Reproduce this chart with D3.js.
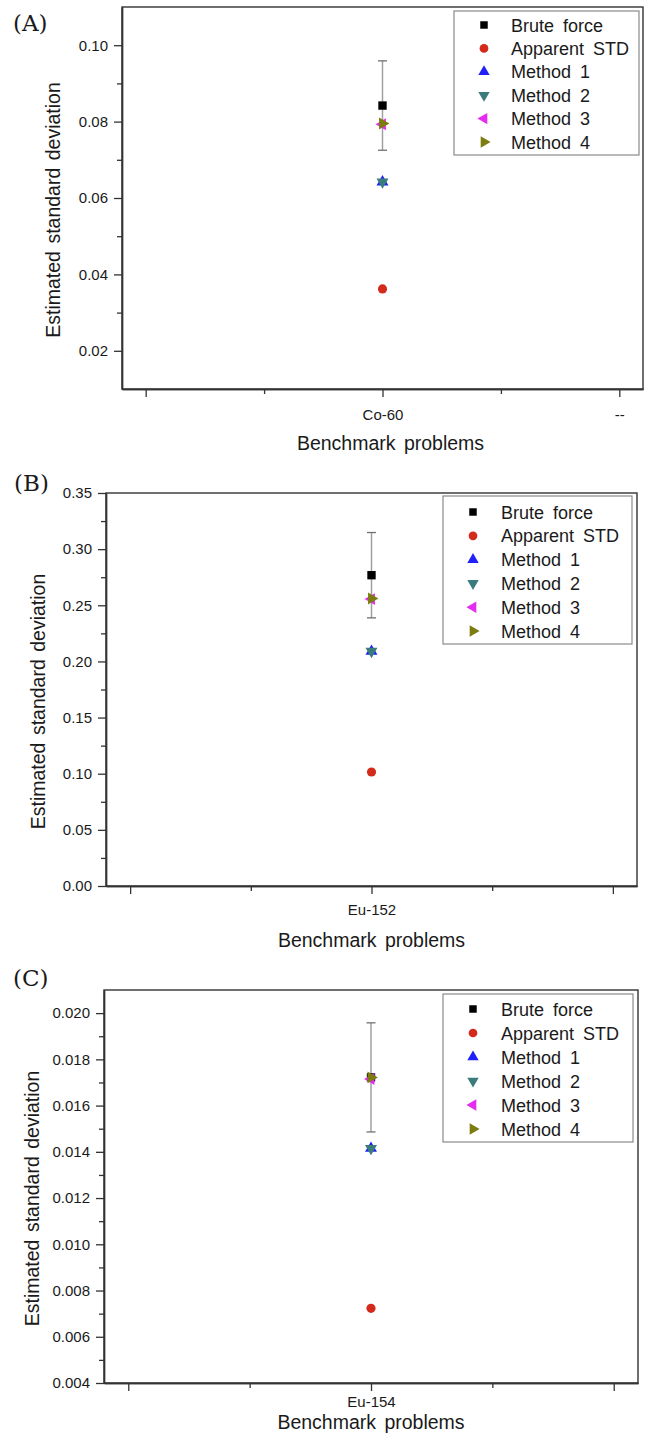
<!DOCTYPE html>
<html><head><meta charset="utf-8">
<script src="https://cdn.jsdelivr.net/npm/d3@7"></script>
<style>
body{margin:0;background:#fff;}
svg{display:block;}
text{font-family:"Liberation Sans",Arial,Helvetica,sans-serif;fill:#1a1a1a;}
</style>
</head><body>
<svg id="chart" width="645" height="1440"></svg>
<script>
// ---------------- data ----------------
const seriesNames = ["Brute force", "Apparent STD", "Method 1", "Method 2", "Method 3", "Method 4"];
const panelLetters = ["(A)", "(B)", "(C)"];
const xTitle = "Benchmark problems";
const yTitle = "Estimated standard deviation";

const categoriesA = ["", "Co-60", "--"];
const categoriesB = ["", "Eu-152", ""];
const categoriesC = ["", "Eu-154", ""];

const valuesA = [0.0842, 0.0362, 0.0642, 0.0642, 0.0793, 0.0795];
const valuesB = [0.2768, 0.1015, 0.2090, 0.2090, 0.2555, 0.2560];
const valuesC = [0.01722, 0.00723, 0.01415, 0.01415, 0.01715, 0.01722];

const bruteErrorA = 0.0117;
const bruteErrorB = 0.0380;
const bruteErrorC = 0.00236;

const yTicksA = [0.02, 0.04, 0.06, 0.08, 0.10];
const yTicksB = [0.00, 0.05, 0.10, 0.15, 0.20, 0.25, 0.30, 0.35];
const yTicksC = [0.004, 0.006, 0.008, 0.010, 0.012, 0.014, 0.016, 0.018, 0.020];
const yMinorA = [0.03, 0.05, 0.07, 0.09];
const yMinorB = [0.025, 0.075, 0.125, 0.175, 0.225, 0.275, 0.325];
const yMinorC = [0.005, 0.007, 0.009, 0.011, 0.013, 0.015, 0.017, 0.019];
const yDomainA = [0.01, 0.11];
const yDomainB = [0.0, 0.35];
const yDomainC = [0.004, 0.021];

// ---------------- styles ----------------
const seriesColors = ["#000000", "#d42a1c", "#2020f8", "#3a7c7c", "#e42cf0", "#7c7c10"];
const seriesShapes = ["square", "circle", "up", "down", "left", "right"];

const svg = d3.select("#chart");

function symbolPath(shape, size) {
  const t = (shape === "square") ? d3.symbolSquare : (shape === "circle") ? d3.symbolCircle : d3.symbolTriangle;
  return d3.symbol().type(t).size(size)();
}
function symbolRotation(shape) {
  return shape === "down" ? 180 : shape === "left" ? -90 : shape === "right" ? 90 : 0;
}

function drawPanel(cfg) {
  const g = svg.append("g");
  const x = d3.scaleLinear().domain([-0.1, 2.1]).range([cfg.left, cfg.right]);
  const y = d3.scaleLinear().domain(cfg.yDomain).range([cfg.bottom, cfg.top]);

  // frame (top + right)
  g.append("rect").attr("x", cfg.left).attr("y", cfg.top)
    .attr("width", cfg.right - cfg.left).attr("height", cfg.bottom - cfg.top)
    .attr("fill", "none").attr("stroke", "#333").attr("stroke-width", 1.4);

  // y axis
  const yAx = g.append("g").attr("transform", `translate(${cfg.left},0)`)
    .call(d3.axisLeft(y).tickValues(cfg.yTicks).tickSize(8).tickSizeOuter(0).tickPadding(6).tickFormat(d3.format(cfg.fmt)));
  const yMin = g.append("g").attr("transform", `translate(${cfg.left},0)`)
    .call(d3.axisLeft(y).tickValues(cfg.yMinor).tickSize(5).tickSizeOuter(0).tickFormat(""));
  // x axis
  const xAx = g.append("g").attr("transform", `translate(0,${cfg.bottom})`)
    .call(d3.axisBottom(x).tickValues([0, 1, 2]).tickSize(8).tickSizeOuter(0).tickPadding(cfg.xPad).tickFormat((d, i) => cfg.categories[i]));
  const xMin = g.append("g").attr("transform", `translate(0,${cfg.bottom})`)
    .call(d3.axisBottom(x).tickValues([0.5, 1.5]).tickSize(5).tickSizeOuter(0).tickFormat(""));
  [yAx, yMin, xAx, xMin].forEach(a => {
    a.select(".domain").attr("stroke", "#333").attr("stroke-width", 1.4);
    a.selectAll(".tick line").attr("stroke", "#333").attr("stroke-width", 1.3);
    a.selectAll(".tick text").style("font-size", "15px").attr("fill", "#1a1a1a")
      .style("font-family", '"Liberation Sans", Arial, sans-serif');
  });

  // titles
  g.append("text").attr("x", (cfg.left + cfg.right) / 2 + cfg.xTitleDx).attr("y", cfg.xTitleY)
    .attr("text-anchor", "middle").style("font-size", "19.5px").style("word-spacing", "3px").text(xTitle);
  g.append("text").attr("transform", `translate(${cfg.yTitleX},${(cfg.top + cfg.bottom) / 2 + 12}) rotate(-90)`)
    .attr("text-anchor", "middle").style("font-size", "19.5px").style("word-spacing", "2px").text(yTitle);
  g.append("text").attr("x", cfg.letterX).attr("y", cfg.letterY)
    .style("font-family", '"DejaVu Serif", "Liberation Serif", serif').style("font-size", "23px")
    .text(cfg.letter);

  // error bar on brute force
  const cx = x(1);
  const v0 = cfg.values[0];
  const yTop = y(v0 + cfg.err), yBot = y(v0 - cfg.err);
  g.append("line").attr("x1", cx).attr("x2", cx).attr("y1", yTop).attr("y2", yBot)
    .attr("stroke", "#a0a0a0").attr("stroke-width", 1.5);
  [yTop, yBot].forEach(yy => g.append("line").attr("x1", cx - 4.5).attr("x2", cx + 4.5)
    .attr("y1", yy).attr("y2", yy).attr("stroke", "#707070").attr("stroke-width", 1.3));

  // points
  cfg.values.forEach((v, i) => {
    const shape = seriesShapes[i];
    const size = shape === "square" ? 70 : shape === "circle" ? 66 : 62;
    g.append("path").attr("d", symbolPath(shape, size))
      .attr("transform", `translate(${cx},${y(v)}) rotate(${symbolRotation(shape)})`)
      .attr("fill", seriesColors[i]);
  });

  // legend
  const lg = g.append("g");
  lg.append("rect").attr("x", cfg.legX).attr("y", cfg.legY).attr("width", cfg.legW).attr("height", cfg.legH)
    .attr("fill", "#fff").attr("stroke", "#8a8a8a").attr("stroke-width", 1.2);
  seriesNames.forEach((name, i) => {
    const ry = cfg.legRow0 + i * cfg.legStep;
    const shape = seriesShapes[i];
    const size = shape === "square" ? 56 : shape === "circle" ? 60 : 56;
    lg.append("path").attr("d", symbolPath(shape, size))
      .attr("transform", `translate(${cfg.legSymX},${ry}) rotate(${symbolRotation(shape)})`)
      .attr("fill", seriesColors[i]);
    lg.append("text").attr("x", cfg.legTextX).attr("y", ry + 6.5)
      .style("font-size", "18px").style("word-spacing", "4px").text(name);
  });
}

drawPanel({
  letter: panelLetters[0], letterX: 13, letterY: 31,
  left: 122, right: 643, top: 7, bottom: 389,
  yDomain: yDomainA, yTicks: yTicksA, yMinor: yMinorA, fmt: ".2f",
  categories: categoriesA, values: valuesA, err: bruteErrorA,
  xPad: 12, xTitleY: 450, xTitleDx: 8, yTitleX: 60,
  legX: 454, legY: 11, legW: 185, legH: 144, legRow0: 25, legStep: 23.4, legSymX: 484, legTextX: 511
});
drawPanel({
  letter: panelLetters[1], letterX: 14, letterY: 491,
  left: 106, right: 637, top: 493, bottom: 886,
  yDomain: yDomainB, yTicks: yTicksB, yMinor: yMinorB, fmt: ".2f",
  categories: categoriesB, values: valuesB, err: bruteErrorB,
  xPad: 10, xTitleY: 947, xTitleDx: 0, yTitleX: 45,
  legX: 443, legY: 496, legW: 189, legH: 148, legRow0: 512, legStep: 23.8, legSymX: 473, legTextX: 501
});
drawPanel({
  letter: panelLetters[2], letterX: 13, letterY: 986,
  left: 104, right: 638, top: 990, bottom: 1383,
  yDomain: yDomainC, yTicks: yTicksC, yMinor: yMinorC, fmt: ".3f",
  categories: categoriesC, values: valuesC, err: bruteErrorC,
  xPad: 5, xTitleY: 1429, xTitleDx: 0, yTitleX: 39,
  legX: 443, legY: 994, legW: 190, legH: 148, legRow0: 1009, legStep: 24, legSymX: 473, legTextX: 501
});
</script>
</body></html>
